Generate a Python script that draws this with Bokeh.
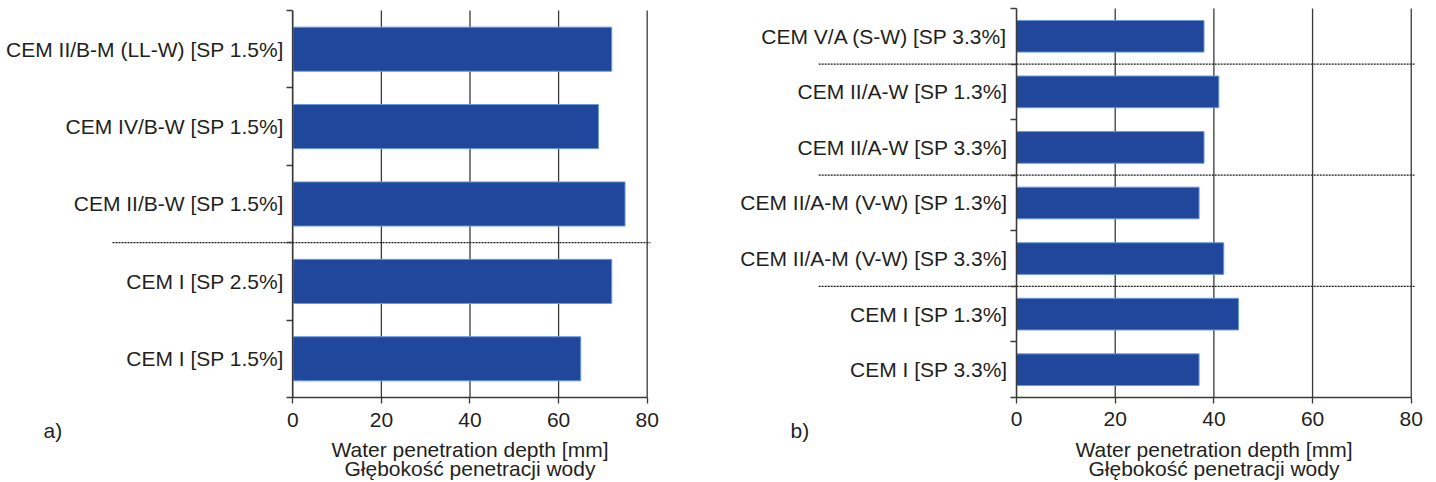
from bokeh.plotting import figure
from bokeh.models import Range1d, FixedTicker, Label
from bokeh.layouts import row
from bokeh.embed import file_html
from bokeh.resources import INLINE

# ---- data (bottom to top) ----
a_labels = ["CEM I [SP 1.5%]", "CEM I [SP 2.5%]", "CEM II/B-W [SP 1.5%]",
            "CEM IV/B-W [SP 1.5%]", "CEM II/B-M (LL-W) [SP 1.5%]"]
a_values = [65, 72, 75, 69, 72]
a_groups = ["CEM I", "CEM I", "blended", "blended", "blended"]

b_labels = ["CEM I [SP 3.3%]", "CEM I [SP 1.3%]", "CEM II/A-M (V-W) [SP 3.3%]",
            "CEM II/A-M (V-W) [SP 1.3%]", "CEM II/A-W [SP 3.3%]",
            "CEM II/A-W [SP 1.3%]", "CEM V/A (S-W) [SP 3.3%]"]
b_values = [37, 45, 42, 37, 38, 41, 38]
b_groups = ["CEM I", "CEM I", "CEM II/A-M", "CEM II/A-M", "CEM II/A-W",
            "CEM II/A-W", "CEM V/A"]

x_ticks = [0, 20, 40, 60, 80]
axis_title = "Water penetration depth [mm]\nGłębokość penetracji wody"

FONT = "Liberation Sans"
TXT = "#231f20"
DARK = "#3a3a3a"
BAR = "#20479b"
BAR_EDGE = "#6b9ad6"


def panel(labels, values, groups, tag, width, x_rng, y_rng, sep_rng, tag_xy):
    n = len(labels)
    centers = [i + 0.5 for i in range(n)]
    bounds = [float(i) for i in range(n + 1)]
    p = figure(x_range=Range1d(*x_rng), y_range=Range1d(*y_rng),
               frame_width=width, frame_height=482,
               min_border=0,
               output_backend="svg", toolbar_location=None)
    p.outline_line_color = None
    p.background_fill_color = "white"
    p.xgrid.grid_line_color = None
    p.ygrid.grid_line_color = None

    # vertical grid lines (0..80) spanning the category bands
    p.segment(x0=x_ticks, x1=x_ticks, y0=[0] * len(x_ticks), y1=[n] * len(x_ticks),
              line_color=DARK, line_width=1.3)

    # dotted separators between cement groups
    seps = [bounds[i] for i in range(1, n) if groups[i] != groups[i - 1]]
    p.segment(x0=[sep_rng[0]] * len(seps), x1=[sep_rng[1]] * len(seps),
              y0=seps, y1=seps, line_color="#1a1a1a", line_width=1.3,
              line_dash="2 1")

    p.hbar(y=centers, right=values, left=0, height=0.57,
           fill_color=BAR, line_color=BAR_EDGE, line_width=1)

    # x axis fixed at y = 0
    xa = p.xaxis[0]
    xa.fixed_location = 0
    xa.ticker = FixedTicker(ticks=x_ticks)
    xa.bounds = (0, 80)
    xa.axis_line_color = DARK
    xa.axis_line_width = 1.3
    xa.major_tick_line_color = DARK
    xa.major_tick_line_width = 1.3
    xa.major_tick_out = 6
    xa.major_tick_in = 0
    xa.minor_tick_line_color = None
    xa.major_label_text_font = FONT
    xa.major_label_text_font_size = "21px"
    xa.major_label_text_color = TXT
    xa.major_label_standoff = 9
    xa.axis_label = axis_title
    xa.axis_label_text_font = FONT
    xa.axis_label_text_font_size = "21px"
    xa.axis_label_text_font_style = "normal"
    xa.axis_label_text_color = TXT
    xa.axis_label_text_line_height = 0.85
    xa.axis_label_standoff = 8

    # y axis fixed at x = 0, labels at band centres, ticks at band boundaries
    ya = p.yaxis[0]
    ya.fixed_location = 0
    ya.bounds = (0, n)
    ya.ticker = FixedTicker(ticks=centers, minor_ticks=bounds)
    ya.major_label_overrides = {c: l for c, l in zip(centers, labels)}
    ya.axis_line_color = DARK
    ya.axis_line_width = 1.3
    ya.major_tick_line_color = None
    ya.major_tick_out = 0
    ya.major_tick_in = 0
    ya.minor_tick_line_color = DARK
    ya.minor_tick_line_width = 1.3
    ya.minor_tick_out = 6
    ya.minor_tick_in = 0
    ya.major_label_standoff = 3
    ya.major_label_text_font = FONT
    ya.major_label_text_font_size = "21px"
    ya.major_label_text_color = TXT

    p.add_layout(Label(x=tag_xy[0], y=tag_xy[1], x_units="screen", y_units="screen",
                       text=tag, text_font=FONT, text_font_size="21px",
                       text_color=TXT, text_baseline="middle"))
    return p


pa = panel(a_labels, a_values, a_groups, "a)", 720,
           (-65.98, 96.55), (-1.098, 5.129), (-40.7, 80.75), (43, 52))
pb = panel(b_labels, b_values, b_groups, "b)", 716,
           (-60.0, 85.12), (-1.530, 7.144), (-40.1, 80.67), (70, 52))

layout = row(pa, pb)
open("out.html", "w").write(file_html(layout, INLINE))
